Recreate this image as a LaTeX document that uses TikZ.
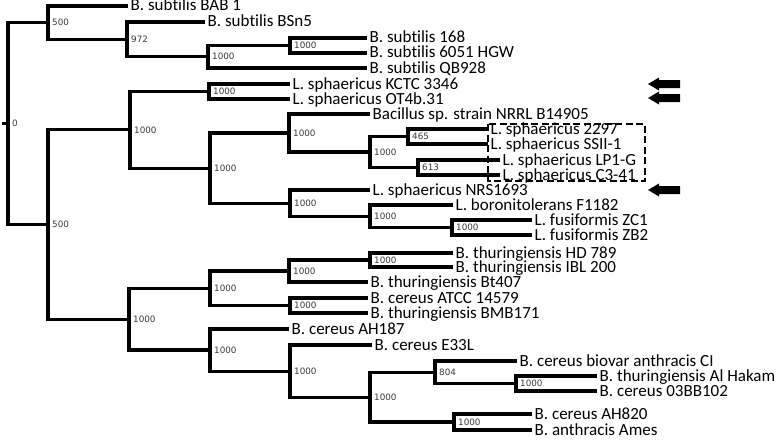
\documentclass[tikz,border=0pt]{standalone}
\usepackage{fontspec}
\setmainfont{Carlito}[Ligatures={NoCommon}]
\newfontfamily\bsfont{DejaVu Sans}
\begin{document}
\begin{tikzpicture}[x=1pt,y=-1pt,
  branch/.style={line width=3.2pt,line join=miter},
  leaf/.style={anchor=west,inner xsep=2.5pt,inner ysep=0pt,text height=10pt,text depth=0pt,font=\fontsize{17}{17}\selectfont},
  bs/.style={anchor=west,inner sep=0pt,xshift=4pt,font=\bsfont\fontsize{8.8}{8.8}\selectfont,text=black!78},
  hilite/.style={line width=2.5pt,dash pattern=on 7pt off 3.5pt},
  marker/.style={fill=black}]
\useasboundingbox (0,0) rectangle (778,444);
% internal nodes
\coordinate (stub) at (2,123.6);
\coordinate (R) at (8,123.6);
\coordinate (A) at (48,22.7);
\coordinate (C) at (127,39.4);
\coordinate (D) at (208,56.75);
\coordinate (E) at (290,45.5);
\coordinate (B) at (48,224.5);
\coordinate (F) at (130,129.8);
\coordinate (H) at (209,91.5);
\coordinate (I) at (210,168.1);
\coordinate (J) at (289,133);
\coordinate (L) at (370,152);
\coordinate (M) at (408,136.5);
\coordinate (N) at (418,167.5);
\coordinate (K) at (290,203.1);
\coordinate (O) at (370,216.25);
\coordinate (P) at (452,227.5);
\coordinate (G) at (129,319.1);
\coordinate (Q) at (210,288.25);
\coordinate (R1) at (289,271);
\coordinate (U) at (370,260);
\coordinate (S1) at (290,305.5);
\coordinate (T) at (210,350);
\coordinate (V) at (290,371.1);
\coordinate (W) at (370,397.1);
\coordinate (X) at (435,372.25);
\coordinate (Z) at (516,383.5);
\coordinate (Y) at (454,422);
% leaves
\node[leaf] (bab1) at (128,6) {B. subtilis BAB 1};
\node[leaf] (bsn5) at (205,22) {B. subtilis BSn5};
\node[leaf] (s168) at (367,38) {B. subtilis 168};
\node[leaf] (s6051) at (367,53) {B. subtilis 6051 HGW};
\node[leaf] (qb928) at (367,68) {B. subtilis QB928};
\node[leaf] (kctc) at (290,84) {L. sphaericus KCTC 3346};
\node[leaf] (ot4b) at (290,99) {L. sphaericus OT4b.31};
\node[leaf] (nrrl) at (370,114) {Bacillus sp. strain NRRL B14905};
\node[leaf] (s2297) at (488,129) {L. sphaericus 2297};
\node[leaf] (ssii) at (488,144) {L. sphaericus SSII-1};
\node[leaf] (lp1g) at (500,160) {L. sphaericus LP1-G};
\node[leaf] (c341) at (500,175) {L. sphaericus C3-41};
\node[leaf] (nrs) at (370,190) {L. sphaericus NRS1693};
\node[leaf] (boro) at (453,205) {L. boronitolerans F1182};
\node[leaf] (zc1) at (532,220) {L. fusiformis ZC1};
\node[leaf] (zb2) at (532,235) {L. fusiformis ZB2};
\node[leaf] (hd789) at (453,253) {B. thuringiensis HD 789};
\node[leaf] (ibl) at (453,267) {B. thuringiensis IBL 200};
\node[leaf] (bt407) at (368,282) {B. thuringiensis Bt407};
\node[leaf] (atcc) at (368,298) {B. cereus ATCC 14579};
\node[leaf] (bmb) at (368,313) {B. thuringiensis BMB171};
\node[leaf] (ah187) at (289,329) {B. cereus AH187};
\node[leaf] (e33l) at (372,345) {B. cereus E33L};
\node[leaf] (biovar) at (517,361) {B. cereus biovar anthracis CI};
\node[leaf] (alhakam) at (597,376) {B. thuringiensis Al Hakam};
\node[leaf] (bb102) at (597,391) {B. cereus 03BB102};
\node[leaf] (ah820) at (532,414) {B. cereus AH820};
\node[leaf] (ames) at (532,430) {B. anthracis Ames};
% branches
\begin{scope}[branch]
\draw (stub) -- (R);
\draw (R) |- (A); \draw (R) |- (B);
\draw (A) |- (bab1.west); \draw (A) |- (C);
\draw (C) |- (bsn5.west); \draw (C) |- (D);
\draw (D) |- (E); \draw (D) |- (qb928.west);
\draw (E) |- (s168.west); \draw (E) |- (s6051.west);
\draw (B) |- (F); \draw (B) |- (G);
\draw (F) |- (H); \draw (F) |- (I);
\draw (H) |- (kctc.west); \draw (H) |- (ot4b.west);
\draw (I) |- (J); \draw (I) |- (K);
\draw (J) |- (nrrl.west); \draw (J) |- (L);
\draw (L) |- (M); \draw (L) |- (N);
\draw (M) |- (s2297.west); \draw (M) |- (ssii.west);
\draw (N) |- (lp1g.west); \draw (N) |- (c341.west);
\draw (K) |- (nrs.west); \draw (K) |- (O);
\draw (O) |- (boro.west); \draw (O) |- (P);
\draw (P) |- (zc1.west); \draw (P) |- (zb2.west);
\draw (G) |- (Q); \draw (G) |- (T);
\draw (Q) |- (R1); \draw (Q) |- (S1);
\draw (R1) |- (U); \draw (R1) |- (bt407.west);
\draw (U) |- (hd789.west); \draw (U) |- (ibl.west);
\draw (S1) |- (atcc.west); \draw (S1) |- (bmb.west);
\draw (T) |- (ah187.west); \draw (T) |- (V);
\draw (V) |- (e33l.west); \draw (V) |- (W);
\draw (W) |- (X); \draw (W) |- (Y);
\draw (X) |- (biovar.west); \draw (X) |- (Z);
\draw (Z) |- (alhakam.west); \draw (Z) |- (bb102.west);
\draw (Y) |- (ah820.west); \draw (Y) |- (ames.west);
\end{scope}
% bootstrap values
\node[bs] at (R) {0};
\node[bs] at (A) {500};
\node[bs] at (C) {972};
\node[bs] at (D) {1000};
\node[bs] at (E) {1000};
\node[bs] at (B) {500};
\node[bs] at (F) {1000};
\node[bs] at (H) {1000};
\node[bs] at (I) {1000};
\node[bs] at (J) {1000};
\node[bs] at (L) {1000};
\node[bs] at (M) {465};
\node[bs] at (N) {613};
\node[bs] at (K) {1000};
\node[bs] at (O) {1000};
\node[bs] at (P) {1000};
\node[bs] at (G) {1000};
\node[bs] at (Q) {1000};
\node[bs] at (R1) {1000};
\node[bs] at (U) {1000};
\node[bs] at (S1) {1000};
\node[bs] at (T) {1000};
\node[bs] at (V) {1000};
\node[bs] at (W) {1000};
\node[bs] at (X) {804};
\node[bs] at (Z) {1000};
\node[bs] at (Y) {1000};
% highlight box
\draw[hilite] (488,124) rectangle (645,181);
% arrows
\foreach \yy in {84,98,190}
  \fill[marker] (648,\yy) -- ++(11,-6.5) -- ++(0,2.5) -- ++(21,0) -- ++(0,8) -- ++(-21,0) -- ++(0,2.5) -- cycle;
\end{tikzpicture}
\end{document}
